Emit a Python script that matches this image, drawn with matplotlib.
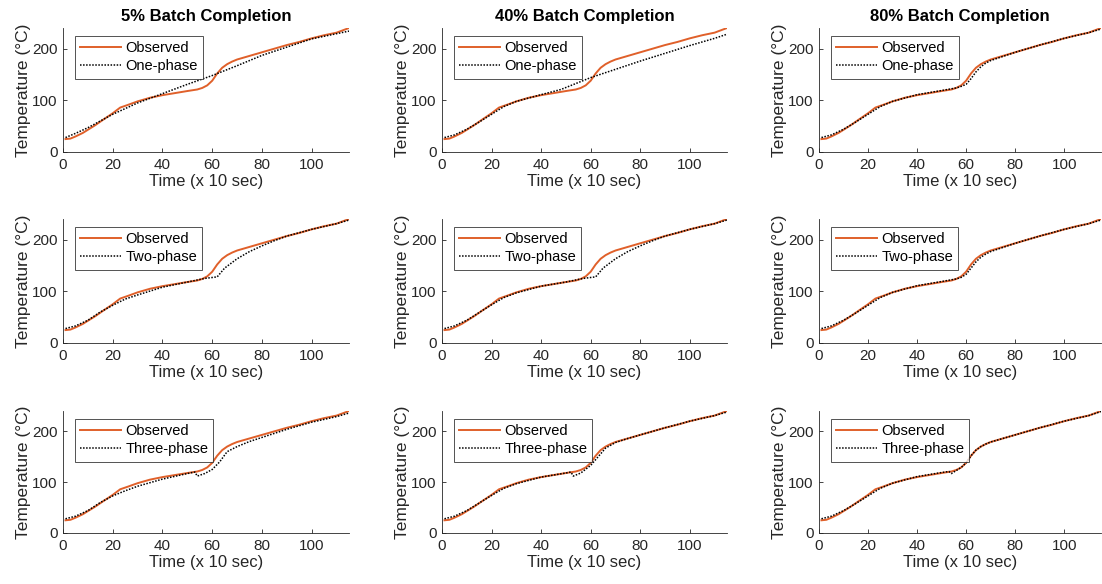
import numpy as np
import matplotlib
matplotlib.use("Agg")
import matplotlib.pyplot as plt

plt.rcParams['font.family'] = ['Liberation Sans', 'DejaVu Sans']

# observed temperature (same run in every panel)
t_obs = [1, 3, 5, 8, 10, 13, 16, 20, 23, 26, 30, 35, 40, 45, 50, 54, 56, 58, 60, 62,
         64, 66, 68, 70, 75, 80, 85, 90, 95, 100, 105, 110, 115]
obs = [25, 26, 30, 37, 43, 52, 62, 75, 86, 91, 98, 105, 110, 114, 118, 121, 124, 129, 138, 152,
       163, 170, 175, 179, 186, 193, 200, 207, 213, 220, 226, 231, 240]

# one-phase model
t_one_5 = [1, 5, 10, 20, 30, 40, 50, 60, 70, 80, 90, 100, 110, 115]
one_5 = [28, 36, 47, 73, 95, 113, 131, 148, 167, 187, 203, 219, 229, 234]
t_one_40 = [1, 5, 10, 15, 20, 25, 30, 40, 48, 60, 70, 80, 90, 100, 110, 115]
one_40 = [28, 33, 44, 58, 73, 88, 98, 111, 121, 144, 160, 176, 191, 206, 220, 228]
t_one_80 = [1, 5, 10, 15, 20, 25, 30, 40, 50, 56, 58, 60, 62, 64, 66, 68, 70, 75, 80, 90, 100, 110, 115]
one_80 = [28, 33, 44, 58, 73, 88, 98, 111, 119, 124, 127, 131, 142, 155, 165, 172, 177, 185, 193, 207, 220, 231, 238]

# two-phase model
t_two_5 = [1, 5, 10, 15, 20, 25, 30, 40, 50, 57, 62, 65, 70, 75, 80, 85, 90, 100, 110, 115]
two_5 = [28, 33, 44, 60, 73, 85, 93, 108, 118, 125, 128, 145, 163, 177, 188, 198, 207, 220, 231, 238]
t_two_40 = [1, 5, 10, 15, 20, 25, 30, 40, 50, 57, 62, 65, 70, 75, 80, 85, 90, 100, 110, 115]
two_40 = [28, 33, 44, 59, 74, 88, 97, 110, 118, 125, 128, 145, 163, 177, 188, 198, 207, 220, 231, 238]
t_two_80 = [1, 5, 10, 15, 20, 25, 30, 40, 50, 56, 58, 60, 62, 64, 66, 68, 70, 75, 80, 90, 100, 110, 115]
two_80 = [28, 33, 44, 58, 73, 88, 98, 111, 119, 124, 127, 133, 145, 157, 166, 172, 177, 185, 193, 207, 220, 231, 238]

# three-phase model
t_three_5 = [1, 5, 10, 15, 20, 25, 30, 40, 50, 53, 54, 57, 60, 63, 66, 70, 75, 80, 90, 100, 110, 115]
three_5 = [28, 33, 44, 60, 73, 83, 92, 106, 117, 120, 112, 117, 125, 140, 160, 170, 180, 188, 204, 218, 229, 236]
t_three_40 = [1, 5, 10, 15, 20, 25, 30, 40, 50, 52, 53, 56, 60, 63, 66, 70, 75, 80, 90, 100, 110, 115]
three_40 = [28, 33, 44, 59, 74, 88, 97, 110, 118, 120, 112, 118, 133, 150, 167, 178, 186, 193, 207, 220, 231, 238]
t_three_80 = [1, 5, 10, 15, 20, 25, 30, 40, 50, 53, 54, 56, 58, 60, 62, 64, 66, 68, 70, 75, 80, 90, 100, 110, 115]
three_80 = [28, 33, 44, 58, 73, 88, 98, 111, 119, 121, 117, 123, 129, 138, 152, 163, 170, 175, 179, 186, 193, 207, 220, 231, 239]

titles = ['5% Batch Completion', '40% Batch Completion', '80% Batch Completion']
model_names = ['One-phase', 'Two-phase', 'Three-phase']
models = [
    [(t_one_5, one_5), (t_one_40, one_40), (t_one_80, one_80)],
    [(t_two_5, two_5), (t_two_40, two_40), (t_two_80, two_80)],
    [(t_three_5, three_5), (t_three_40, three_40), (t_three_80, three_80)],
]

W, H = 1102, 584
fig = plt.figure(figsize=(W / 100, H / 100), dpi=100)

col_left = [63, 442, 819]
col_width = [286, 285, 282]
row_top = [28, 219, 411]
row_bot = [152, 343, 533]

grey = '#262626'
for r in range(3):
    for c in range(3):
        aw = col_width[c]
        ah = row_bot[r] - row_top[r]
        ax = fig.add_axes([col_left[c] / W, 1 - row_bot[r] / H, aw / W, ah / H])
        ax.plot(t_obs, obs, color='#E0602A', lw=1.4, label='Observed')
        tm, ym = models[r][c]
        ax.plot(tm, ym, color='black', lw=1.1, ls=(0, (1, 1)), label=model_names[r])
        ax.set_xlim(0, 115)
        ax.set_ylim(0, 240)
        ax.set_xticks([0, 20, 40, 60, 80, 100])
        ax.set_yticks([0, 100, 200])
        for s in ['top', 'right']:
            ax.spines[s].set_visible(False)
        for s in ['left', 'bottom']:
            ax.spines[s].set_color(grey)
            ax.spines[s].set_linewidth(0.6)
        ax.tick_params(direction='in', length=3, width=0.6, colors=grey,
                       labelsize=11, pad=4)
        ax.set_xlabel('Time (x 10 sec)', fontsize=12, color=grey, labelpad=2)
        ax.set_ylabel('Temperature (°C)', fontsize=12.5, color=grey, labelpad=1)
        if r == 0:
            ax.set_title(titles[c], fontsize=12, fontweight='bold', pad=5)
        leg = ax.legend(loc='upper left', bbox_to_anchor=(12 / aw, 1 - 8 / ah),
                        fontsize=10.5, frameon=True, fancybox=False,
                        handlelength=2.8, handletextpad=0.3, borderpad=0.35,
                        labelspacing=0.3, borderaxespad=0)
        leg.get_frame().set_edgecolor(grey)
        leg.get_frame().set_linewidth(0.7)

fig.savefig('out.png', dpi=100)
